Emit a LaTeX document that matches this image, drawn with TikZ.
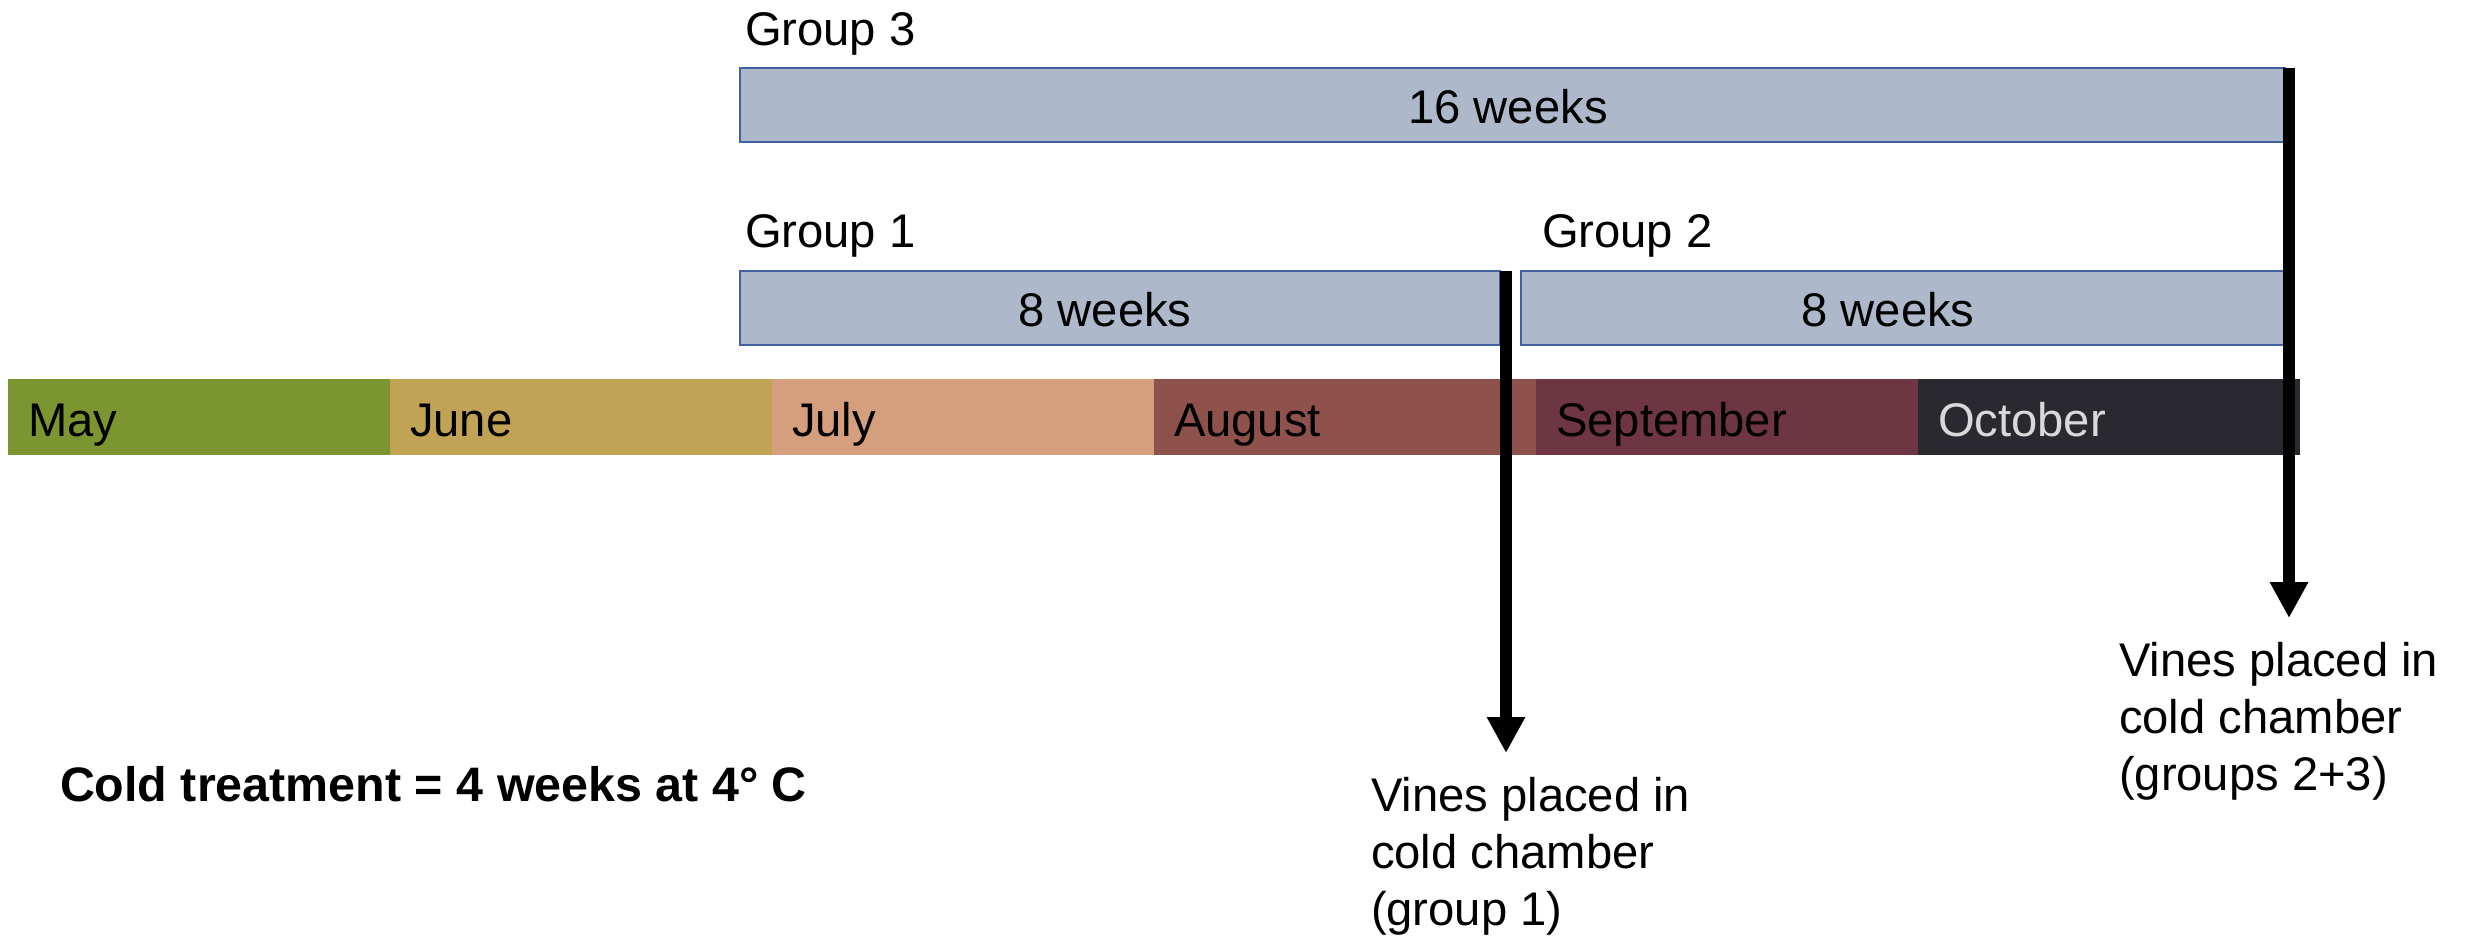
\documentclass[tikz,border=0pt]{standalone}
\usepackage{fontspec}
\setmainfont{Liberation Sans}
\usetikzlibrary{arrows.meta}
\definecolor{cmay}{HTML}{7B9531}
\definecolor{cjune}{HTML}{C0A354}
\definecolor{cjuly}{HTML}{D59E7C}
\definecolor{caug}{HTML}{8E514C}
\definecolor{csep}{HTML}{6E3543}
\definecolor{coct}{HTML}{2A292F}
\definecolor{octtext}{HTML}{D9D9D9}
\definecolor{boxfill}{HTML}{ADB9CA}
\definecolor{boxline}{HTML}{41629C}
\begin{document}
\begin{tikzpicture}[x=0.25pt,y=-0.25pt,
  every node/.style={font=\fontsize{11.8}{14.3}\selectfont, inner sep=0pt, outer sep=0pt},
  month/.style={anchor=north west, minimum height=19pt, text width=85.5pt, inner xsep=5pt, inner ysep=0pt, align=left, text height=9.5pt, text depth=0pt},
  gbox/.style={draw=boxline, fill=boxfill, line width=0.5pt, anchor=north west, minimum height=18.5pt},
  glabel/.style={anchor=base west},
  wlabel/.style={anchor=base},
  note/.style={anchor=north west, align=left},
  arr/.style={line width=3pt, -{Triangle[length=9pt,width=9pt]}}]
\useasboundingbox (0,0) rectangle (2468,936);

% month bar
\node[month, fill=cmay] (may) at (8,379) {May};
\node[month, fill=cjune] (june) at (may.north east) {June};
\node[month, fill=cjuly] (july) at (june.north east) {July};
\node[month, fill=caug] (aug) at (july.north east) {August};
\node[month, fill=csep] (sep) at (aug.north east) {September};
\node[month, fill=coct, text=octtext] (oct) at (sep.north east) {October};

% group boxes
\node[gbox, minimum width=386.25pt] (g3) at (740,68) {};
\node[gbox, minimum width=190pt] (g1) at (740,271) {};
\node[gbox, minimum width=191pt] (g2) at (1521,271) {};

\node[glabel] (g3l) at (745,45) {Group 3};
\node[glabel] (g1l) at (745,247) {Group 1};
\node[glabel] (g2l) at (1542,247) {Group 2};

\node[wlabel] (g3t) at (1508,123) {16 weeks};
\node[wlabel] (g1t) at (1105,326) {8 weeks};
\node[wlabel] (g2t) at (1888,326) {8 weeks};

% notes
\node[anchor=base west, font=\fontsize{12.1}{14.5}\selectfont\bfseries] (cold) at (60,801) {Cold treatment = 4 weeks at 4° C};
\node[note] (v1) at (1371,777) {Vines placed in\\cold chamber\\(group 1)};
\node[note] (v2) at (2119,642) {Vines placed in\\cold chamber\\(groups 2+3)};

% arrows
\coordinate (a1s) at (1506,271);
\coordinate (a1e) at (1506,753);
\coordinate (a2s) at (2289,68);
\coordinate (a2e) at (2289,618);
\draw[arr] (a1s) -- (a1e);
\draw[arr] (a2s) -- (a2e);
\end{tikzpicture}
\end{document}
